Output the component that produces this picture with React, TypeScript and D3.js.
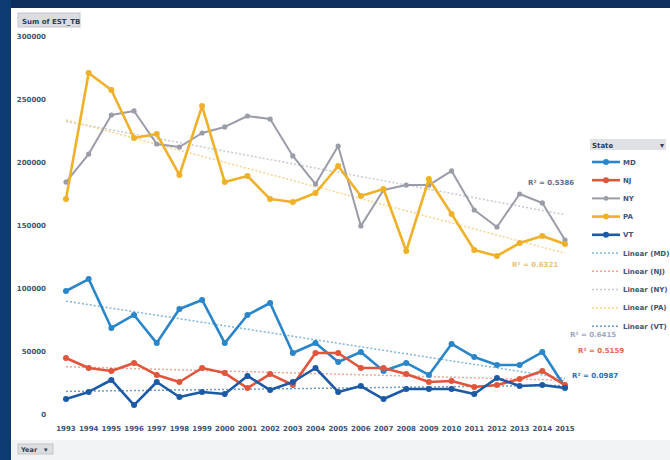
import React from "react";
import * as d3 from "d3";

const years = ["1993","1994","1995","1996","1997","1998","1999","2000","2001","2002","2003","2004","2005","2006","2007","2008","2009","2010","2011","2012","2013","2014","2015"];
const mdValues = [97600,107100,68300,78600,56300,83300,90500,56300,78600,88100,48400,56300,41300,49200,34100,40500,31000,55600,45200,38900,38900,49200,21400];
const njValues = [44400,36500,34100,40500,31000,25400,36500,32500,20600,31700,23000,48400,48400,36500,36500,31700,25400,26200,21400,23000,27800,34100,23000];
const nyValues = [184100,206300,237300,240500,214300,211900,223000,227800,236500,234100,204800,182500,212700,149200,177800,181700,181700,192900,161900,148400,174600,167500,138100];
const paValues = [170600,270600,257100,219000,222200,189700,244400,184100,188900,170600,168300,175400,196800,173000,178600,129400,186500,158700,130200,125400,135700,141300,134900];
const vtValues = [11900,17500,27000,7100,25400,13500,17500,15900,30200,19000,25400,36500,17500,22200,11900,19800,19800,19800,15900,28600,22200,23000,20600];
const seriesNames = ["MD","NJ","NY","PA","VT"];
const yTicks = [0,50000,100000,150000,200000,250000,300000];
const r2Labels = ["R² = 0.6415","R² = 0.5159","R² = 0.5386","R² = 0.6321","R² = 0.0987"];

const colors = ["#2A86C8","#E0553C","#9A9CA8","#F0B12A","#1D5AA6"];
const trendColors = ["#7FB6DC","#EFA595","#C8CAD2","#F5D590","#6F9CCB"];
const r2Pos = [[570,337,"#9aa8bc"],[578,353,"#e06a50"],[528,185,"#5d6d8c"],[512,267,"#e8c27a"],[572,378,"#2a6cb0"]];

const allSeries = [mdValues, njValues, nyValues, paValues, vtValues];

function linreg(vals: number[]) {
  const n = vals.length;
  const xs = vals.map((_, i) => i);
  const mx = d3.mean(xs)!;
  const my = d3.mean(vals)!;
  let sxy = 0, sxx = 0;
  xs.forEach((x, i) => { sxy += (x - mx) * (vals[i] - my); sxx += (x - mx) ** 2; });
  const b = sxy / sxx;
  const a = my - b * mx;
  return [a, a + b * (n - 1)];
}

export default function App() {
  const x = d3.scalePoint<string>().domain(years).range([66, 565]);
  const y = d3.scaleLinear().domain([0, 300000]).range([414, 36]);
  const line = d3.line<number>().x((_, i) => x(years[i])!).y(d => y(d));
  const textColor = "#3e5577";
  const font = "'DejaVu Sans', Arial, sans-serif";

  return (
    <svg width={670} height={460} style={{ position: "absolute", left: 0, top: 0, fontFamily: font }}>
      <rect x={0} y={0} width={670} height={460} fill="#ffffff" />
      <rect x={0} y={440} width={670} height={20} fill="#f2f3f5" />
      <rect x={0} y={0} width={670} height={8} fill="#0d2f5e" />
      <rect x={0} y={0} width={11} height={460} fill="#0d3a72" />
      {/* top-left button */}
      <rect x={18} y={13} width={62} height={14} fill="#dcdde0" stroke="#c4c6ca" />
      <text x={22} y={23.5} fontSize={7} fontWeight="bold" fill="#2d3f5c">Sum of EST_TB</text>
      {/* y ticks */}
      {yTicks.map(t => (
        <text key={t} x={46} y={y(t) + 2.5} fontSize={7} fontWeight="bold" fill={textColor} textAnchor="end">{t}</text>
      ))}
      {/* x labels */}
      {years.map(yr => (
        <text key={yr} x={x(yr)} y={431} fontSize={7} fontWeight="bold" fill={textColor} textAnchor="middle">{yr}</text>
      ))}
      {/* trendlines */}
      {allSeries.map((vals, si) => {
        const [a, b] = linreg(vals);
        return <line key={"t" + si} x1={x(years[0])} y1={y(a)} x2={x(years[years.length - 1])} y2={y(b)}
          stroke={trendColors[si]} strokeWidth={1.5} strokeDasharray="2,2" />;
      })}
      {/* series */}
      {[2, 3, 0, 1, 4].map(si => (
        <g key={"s" + si}>
          <path d={line(allSeries[si]) || ""} fill="none" stroke={colors[si]} strokeWidth={si === 2 ? 2 : 2.6} strokeLinejoin="round" />
          {allSeries[si].map((v, i) => (
            <circle key={i} cx={x(years[i])} cy={y(v)} r={si === 2 ? 2.6 : 3} fill={colors[si]} />
          ))}
        </g>
      ))}
      {/* R2 labels */}
      {r2Pos.map((p, i) => (
        <text key={"r" + i} x={p[0] as number} y={p[1] as number} fontSize={7} fontWeight="bold" fill={p[2] as string}>{r2Labels[i]}</text>
      ))}
      {/* legend */}
      <rect x={590} y={139} width={76} height={11} fill="#dfe1e5" />
      <text x={592} y={147.5} fontSize={7} fontWeight="bold" fill="#2d3f5c">State</text>
      <text x={660} y={148} fontSize={8} fontWeight="bold" fill="#2d3f5c">▾</text>
      {seriesNames.map((nm, i) => {
        const ly = 162 + i * 18.2;
        return (
          <g key={"l" + i}>
            <line x1={592} x2={620} y1={ly} y2={ly} stroke={colors[i]} strokeWidth={i === 2 ? 2 : 2.6} />
            <circle cx={606} cy={ly} r={i === 2 ? 2.4 : 3} fill={colors[i]} />
            <text x={623} y={ly + 2.5} fontSize={7} fontWeight="bold" fill={textColor}>{nm}</text>
          </g>
        );
      })}
      {seriesNames.map((nm, i) => {
        const ly = 253 + i * 18.3;
        return (
          <g key={"lt" + i}>
            <line x1={592} x2={620} y1={ly} y2={ly} stroke={trendColors[i]} strokeWidth={1.5} strokeDasharray="2,2" />
            <text x={623} y={ly + 2.5} fontSize={7} fontWeight="bold" fill={textColor}>{"Linear (" + nm + ")"}</text>
          </g>
        );
      })}
      {/* bottom-left button */}
      <rect x={18} y={444} width={35} height={10} fill="#dcdde0" stroke="#c4c6ca" />
      <text x={21} y={451.5} fontSize={6.5} fontWeight="bold" fill="#2d3f5c">Year</text>
      <text x={44} y={452} fontSize={7} fontWeight="bold" fill="#2d3f5c">▾</text>
    </svg>
  );
}
